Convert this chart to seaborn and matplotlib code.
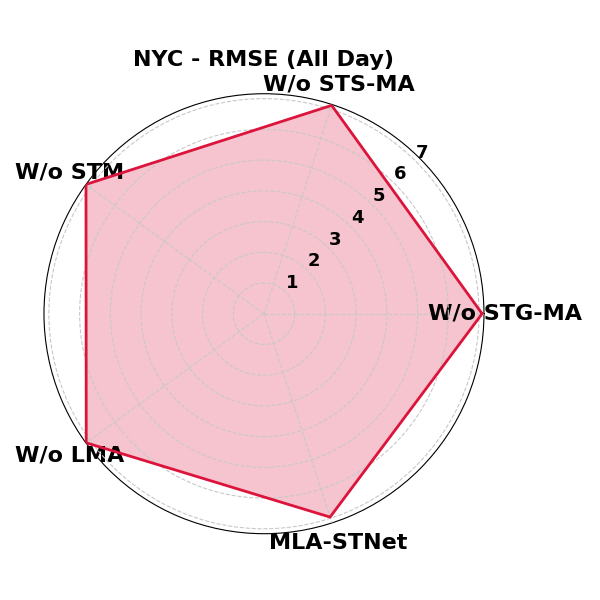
import numpy as np
import pandas as pd
import seaborn as sns
import matplotlib.pyplot as plt

# Data
categories = ['W/o STG-MA', 'W/o STS-MA', 'W/o STM', 'W/o LMA', 'MLA-STNet']
rmse = [7.10, 7.13, 7.16, 7.15, 6.96]
r_ticks = [1, 2, 3, 4, 5, 6, 7]

sns.set_style('white')
plt.rcParams.update({'text.color': 'black', 'xtick.color': 'black',
                     'ytick.color': 'black', 'axes.labelcolor': 'black'})

n = len(categories)
angles = np.linspace(0, 2 * np.pi, n, endpoint=False).tolist()

df = pd.DataFrame({'angle': angles + angles[:1], 'rmse': rmse + rmse[:1]})

fig = plt.figure(figsize=(6, 6), dpi=100)
ax = fig.add_axes([0.0733, 0.1105, 0.7333, 0.7333], projection='polar')
ax.set_axisbelow(False)

# fill under the grid, outline above it
ax.fill(df['angle'], df['rmse'], color='#DC143C', alpha=0.25, linewidth=0,
        zorder=1)
sns.lineplot(data=df, x='angle', y='rmse', sort=False, color='#DC143C',
             linewidth=2, ax=ax, estimator=None, zorder=3)

ax.set_ylim(0, max(rmse))
ax.set_xticks(angles)
ax.set_xticklabels(categories, fontsize=16, fontweight='bold', color='black')
ax.tick_params(axis='x', pad=4.5)
ax.set_yticks(r_ticks)
ax.set_yticklabels([str(t) for t in r_ticks], fontsize=13, fontweight='bold',
                   color='black')
ax.set_rlabel_position(45)
ax.set_xlabel('')
ax.set_ylabel('')
ax.grid(True, linestyle='--', color='#c8c8c8', linewidth=0.8)
ax.spines['polar'].set_color('black')
ax.spines['polar'].set_linewidth(0.8)

ax.set_title('NYC - RMSE (All Day)', fontsize=16, fontweight='bold',
             color='black')

fig.savefig('out.png', dpi=100)
